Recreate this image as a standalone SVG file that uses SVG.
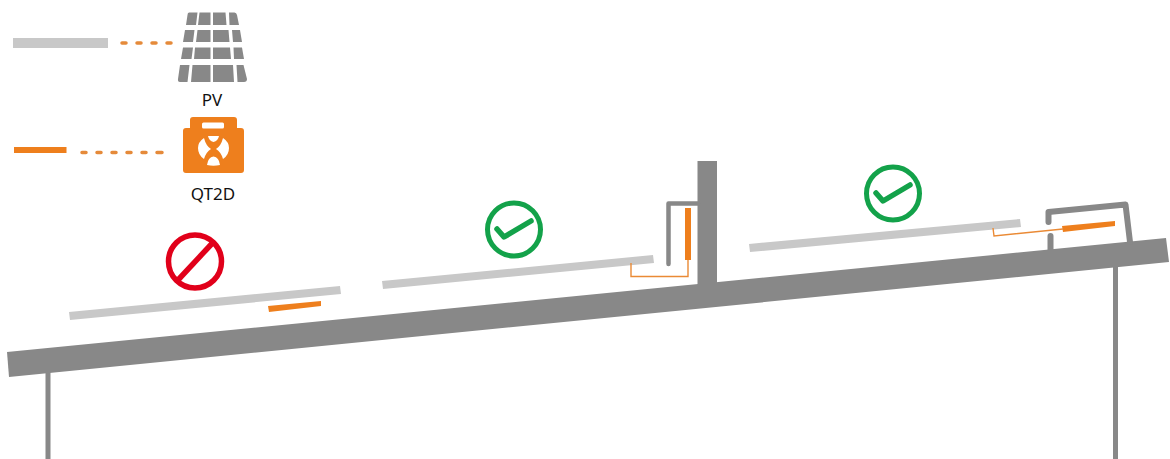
<svg xmlns="http://www.w3.org/2000/svg" width="1170" height="459" viewBox="0 0 1170 459">
<style>
.roof{fill:#888888}
.frame{fill:none;stroke:#888888;stroke-linecap:round;stroke-linejoin:round}
.pv{fill:#c8c8c8}
.qt{fill:#ee7f1d}
.wire{fill:none;stroke:#ea8a35;stroke-width:1.4}
.dash{stroke:#e58a3a;stroke-width:3.500;stroke-linecap:round;fill:none}
.label{font-family:"Noto Sans","Liberation Sans",Arial,sans-serif;font-size:17px;fill:#111;text-anchor:middle}
.ok{fill:none;stroke:#13a24a;stroke-width:5}
.okc{fill:none;stroke:#13a24a;stroke-width:5.500;stroke-linecap:round;stroke-linejoin:round}
.no{fill:none;stroke:#e1001a;stroke-width:5.500}
</style>
<g id="roof">
<polygon class="roof" points="7,352 1166,238 1169,262 9,377"/>
<rect class="roof" x="45.500" y="372" width="5" height="87"/>
<rect class="roof" x="1113" y="262" width="5" height="197"/>
</g>
<g id="legend-pv">
<rect class="pv" x="13" y="38" width="95" height="10"/>
<g fill="#888888">
<path d="M189 12.500h8.500l-1.500 12.500h-10l1.500-10q0-2.500 1.500-2.500zM199.500 12.500h11v12.500h-12.500zM213 12.500h12.500l1 12.500h-13.500zM229 12.500h5.500q2 0 2.500 2.500l2 10h-9.500z"/>
<path d="M185 30h9.500l-1.500 12h-10zM197.500 30h13v12h-14.500zM213 30h15.500l1 12h-16.500zM232 30h8l2 12h-9z"/>
<path d="M183 47.500h10l-1.500 11.500h-10.500zM195 47.500h15.500v11.500h-16.500zM213 47.500h17l1 11.500h-18zM233.500 47.500h8.500l2 11.500h-10z"/>
<path d="M180 65h9.500l-2 17h-7.500q-2.500 0-2-3zM192.500 65h18v17h-19.500zM213 65h20l1 17h-21zM236.500 65h7l3.500 14q0 3-3 3h-6.500z"/>
</g>
<text class="label" x="212" y="106">PV</text>
</g>
<g id="legend-qt2d">
<rect class="qt" x="14" y="147" width="52.500" height="6"/>
<path class="qt" d="M190 120q0-3 3-3h41q3 0 3 3v8h4q3 0 3 3v39q0 3-3 3h-55q-3 0-3-3v-39q0-3 3-3h4z"/>
<rect x="202" y="122.500" width="22" height="6" rx="1.500" fill="#fff"/>
<path d="M208 136H219Q218 141 213.500 142Q209 141 208 136zM204 138Q206 146 211 149Q206 152 204 159Q198 155 198 148Q198 142 204 138zM223 138Q221 146 216 149Q221 152 223 159Q229 155 229 148Q229 142 223 138zM213.500 156.500Q219 157 220 165Q213.500 166.500 207 165Q208 157 213.500 156.500z" fill="#fff"/>
<text class="label" x="213" y="200">QT2D</text>
</g>
<g id="case-bad">
<polygon class="pv" points="69,312 340,286 341,294 70,320"/>
<polygon class="qt" points="268,306 321,301 321,306 269,312"/>
<g id="icon-no"><circle class="no" cx="195" cy="261.500" r="26.500"/><line class="no" x1="178" y1="280" x2="212.500" y2="243"/></g>
</g>
<g id="case-wall">
<rect class="roof" x="697.500" y="161" width="19.500" height="125"/>
<polygon class="pv" points="382,281 653,255 654,263 383,289"/>
<path class="frame" stroke-width="4.500" d="M668.500 264V203.500H698"/>
<rect class="qt" x="685" y="208" width="6" height="52"/>
<g id="icon-ok-1"><circle class="ok" cx="514" cy="229.500" r="26.500"/><path class="okc" d="M497 229l7 8 27-16"/></g>
</g>
<g id="case-side">
<polygon class="pv" points="749,244 1020,219 1021,227 750,252"/>
<path class="frame" stroke-width="6" d="M1048.500 222V212L1125.500 204.500L1130 242"/>
<path class="frame" stroke-width="6" d="M1050.500 236V250"/>
<polygon class="qt" points="1062,226 1115,221 1115,226 1063,232"/>
<g id="icon-ok-2"><circle class="ok" cx="893" cy="193.500" r="26.500"/><path class="okc" d="M876 193l7 8 27-16"/></g>
</g>
<g id="connectors">
<path class="dash" d="M122 43H126M137 43H141M152 43H156M167 43H171"/>
<path class="dash" d="M82 152.500H86M97 152.500H101M112 152.500H116M127 152.500H131M142 152.500H146M157 152.500H162"/>
<path class="wire" d="M631 263V276.500H688V260"/>
<path class="wire" d="M993 228L994 236L1063 229"/>
</g>
</svg>
